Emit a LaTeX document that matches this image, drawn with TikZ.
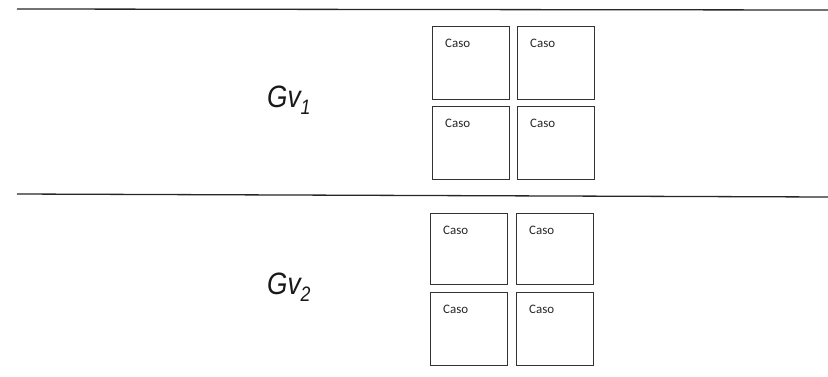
\documentclass[tikz,border=0pt]{standalone}
\usepackage{fontspec}
\setmainfont{Liberation Sans}
\newfontfamily\casofont{Carlito}
\newfontfamily\gvfont[FakeStretch=0.85]{Liberation Sans}
\usetikzlibrary{calc}
\tikzset{
  rule/.style={draw=black!85, line width=1.3bp},
  casebox/.style={draw=black!80, line width=0.9bp, minimum width=77bp, minimum height=73bp, inner sep=0pt, anchor=north west},
  casolabel/.style={font=\casofont\fontsize{13}{13}\selectfont, inner sep=0pt, anchor=base west, text=black!85},
  grouplabel/.style={font=\gvfont\itshape\fontsize{31}{31}\selectfont, inner sep=0pt, anchor=base west, text=black!90}
}
\newcommand{\gvname}[1]{Gv\raisebox{-7bp}{\fontsize{21}{21}\selectfont #1}}
\begin{document}
\begin{tikzpicture}[x=1bp,y=-1bp]
  \useasboundingbox (0,0) rectangle (828,376);
  % horizontal rules between the two groups
  \coordinate (r1a) at (17,9);   \coordinate (r1b) at (828,10);
  \coordinate (r2a) at (17,194); \coordinate (r2b) at (828,197);
  \draw[rule] (r1a) -- (r1b);
  \draw[rule] (r2a) -- (r2b);
  % group labels
  \node[grouplabel] (gv1) at (267,107) {\gvname{1}};
  \node[grouplabel] (gv2) at (267,294) {\gvname{2}};
  % first group of cases
  \node[casebox] (a11) at (432,26)  {};
  \node[casebox] (a12) at (517,26)  {};
  \node[casebox] (a21) at (432,106) {};
  \node[casebox] (a22) at (517,106) {};
  % second group of cases
  \node[casebox, minimum height=71bp] (b11) at (430,213) {};
  \node[casebox, minimum height=71bp] (b12) at (516,213) {};
  \node[casebox] (b21) at (430,292) {};
  \node[casebox] (b22) at (516,292) {};
  \foreach \b in {a11,a12,a21,a22,b11,b12,b21,b22}
    \node[casolabel] (lbl-\b) at ($(\b.north west)+(13,21)$) {Caso};
\end{tikzpicture}
\end{document}
